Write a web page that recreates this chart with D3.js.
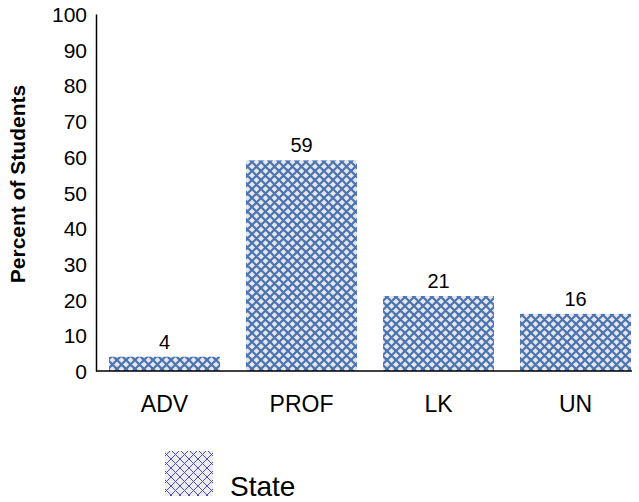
<!DOCTYPE html>
<html lang="en">
  <head>
    <meta charset="utf-8">
    <title>Percent of Students</title>
    <style>
      body {margin: 0; background: #fff;}
      svg {display: block; font-family: Arial, "Liberation Sans", sans-serif;}
      .axis path, .axis line {stroke: #000;}
    </style>
    <script src="https://d3js.org/d3.v7.min.js"></script>
  </head>
  <body>
    <script type="text/javascript">
      // data
      var categories = ["ADV", "PROF", "LK", "UN"];
      var values = [4, 59, 21, 16];
      var yTicks = [0, 10, 20, 30, 40, 50, 60, 70, 80, 90, 100];
      var seriesName = "State";

      var width = 639, height = 502;
      var plotLeft = 96, plotRight = 644, plotTop = 14, plotBottom = 371;

      var svg = d3.select("body").append("svg")
        .attr("width", width)
        .attr("height", height);

      // crosshatch fills
      var defs = svg.append("defs");
      function hatch(id, bg, fg, sw) {
        var p = defs.append("pattern")
          .attr("id", id)
          .attr("patternUnits", "userSpaceOnUse")
          .attr("width", 9).attr("height", 9);
        p.append("rect").attr("width", 9).attr("height", 9).attr("fill", bg);
        p.append("path")
          .attr("d", "M-1,-1 L10,10 M-1,10 L10,-1 M-5,4 L4,-5 M4,13 L13,4 M-5,5 L4,14 M5,-4 L14,5")
          .attr("stroke", fg).attr("stroke-width", sw).attr("fill", "none");
      }
      hatch("barHatch", "#e6e6eb", "#4a74b0", 2.2);
      hatch("legHatch", "#ececf2", "#4b4fb8", 1);

      var x = d3.scaleBand()
        .domain(categories)
        .range([plotLeft, plotRight])
        .paddingInner(0.19)
        .paddingOuter(0.095);

      var y = d3.scaleLinear()
        .domain([0, 100])
        .range([plotBottom, plotTop]);

      // bars
      svg.append("g").selectAll("rect")
        .data(values)
        .enter()
        .append("rect")
        .attr("x", function(d, i) { return x(categories[i]); })
        .attr("y", function(d) { return y(d); })
        .attr("width", x.bandwidth())
        .attr("height", function(d) { return y(0) - y(d); })
        .attr("fill", "url(#barHatch)");

      // value labels
      svg.append("g").selectAll("text")
        .data(values)
        .enter()
        .append("text")
        .attr("x", function(d, i) { return x(categories[i]) + x.bandwidth() / 2; })
        .attr("y", function(d) { return y(d) - 8; })
        .attr("text-anchor", "middle")
        .attr("font-size", 20)
        .text(function(d) { return d; });

      // y axis
      var yAxis = svg.append("g")
        .attr("class", "axis")
        .attr("transform", "translate(" + plotLeft + ",0)")
        .call(d3.axisLeft(y).tickValues(yTicks).tickSize(0).tickPadding(9));
      yAxis.selectAll("text").attr("font-size", 21).attr("fill", "#000")
        .attr("dy", "0.36em")
        .style("font-family", "Arial, 'Liberation Sans', sans-serif");
      yAxis.select(".domain").attr("stroke-width", 1.5);

      // x axis
      var xAxis = svg.append("g")
        .attr("class", "axis")
        .attr("transform", "translate(0," + plotBottom + ")")
        .call(d3.axisBottom(x).tickSize(0).tickPadding(0));
      xAxis.select(".domain").attr("d", "M" + plotLeft + ",0H" + (width - 7)).attr("stroke-width", 1.5);
      xAxis.selectAll("text").attr("font-size", 23).attr("fill", "#000")
        .attr("y", 41).attr("dy", 0)
        .style("font-family", "Arial, 'Liberation Sans', sans-serif");

      // y title
      svg.append("text")
        .attr("transform", "translate(25,184) rotate(-90)")
        .attr("text-anchor", "middle")
        .attr("font-size", 21)
        .attr("font-weight", "bold")
        .text("Percent of Students");

      // legend
      svg.append("rect")
        .attr("x", 165).attr("y", 451)
        .attr("width", 48).attr("height", 45)
        .attr("fill", "url(#legHatch)");
      svg.append("text")
        .attr("x", 230).attr("y", 496)
        .attr("font-size", 28)
        .text(seriesName);
    </script>
  </body>
</html>
